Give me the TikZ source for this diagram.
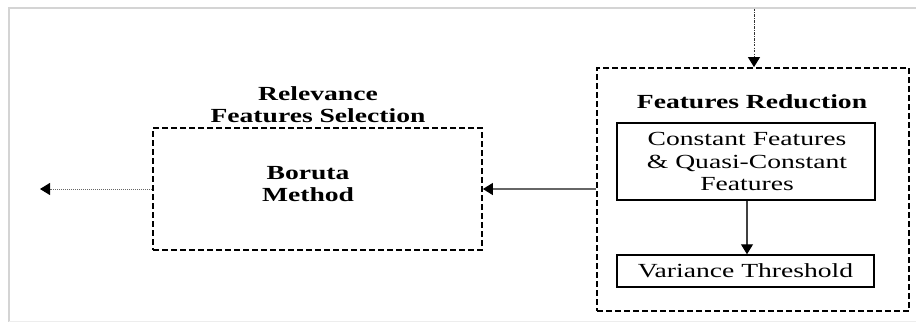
\documentclass[tikz,border=0pt]{standalone}
\usepackage{fontspec}
\setmainfont[FakeStretch=1.38]{Liberation Serif}
\usetikzlibrary{arrows.meta}
\tikzset{
  dashbox/.style={draw=black, line width=1.8pt, dash pattern=on 6pt off 3pt, rectangle, inner sep=0pt},
  solidbox/.style={draw=black, line width=1.5pt, rectangle, inner sep=0pt},
  txt/.style={align=center, inner sep=0pt, font=\fontsize{20}{22.5}\selectfont},
  btxt/.style={align=center, inner sep=0pt, font=\fontsize{20}{22}\selectfont\bfseries},
  tip/.style={-{Triangle[length=10pt,width=12pt,color=black]}},
  frame/.style={draw=black!17, line width=2pt},
}
\begin{document}
\begin{tikzpicture}[x=1pt,y=-1pt]
\useasboundingbox (0,0) rectangle (916,322);
% light frame
\draw[frame] (916,7.5) -- (8.5,7.5) -- (8.5,322);
\draw[draw=black!7, line width=1pt] (8.5,321) -- (916,321);

% boxes
\node[dashbox, minimum width=329pt, minimum height=122pt] (boruta) at (317.5,189) {};
\node[btxt] (borutatext) at (308,184) {Boruta\\Method};
\node[btxt] (reltext) at (318,104.5) {Relevance\\Features Selection};

\node[dashbox, minimum width=312pt, minimum height=243pt] (fr) at (753,189.5) {};
\node[btxt] (frtext) at (752,102) {Features Reduction};
\node[solidbox, minimum width=258pt, minimum height=77pt] (const) at (746,161.5) {};
\node[txt] (consttext) at (747,161.5) {Constant Features\\\& Quasi-Constant\\Features};
\node[solidbox, minimum width=257pt, minimum height=32pt] (var) at (745.5,271) {};
\node[txt] (vartext) at (745.5,271) {Variance Threshold};

% connectors
\coordinate (topin) at (754,8.5);
\coordinate (outl) at (40,189);
\draw[tip, black!80, line width=1pt, dash pattern=on 2.5pt off 1.2pt on 1pt off 1.2pt] (topin) -- (fr.north -| topin);
\draw[tip, black!60, line width=1.2pt] (fr.west |- boruta.east) -- (boruta.east);
\draw[tip, black!60, line width=1pt, densely dotted] (boruta.west) -- (outl);
\draw[tip, black!75, line width=1.2pt] (const.south -| 747,0) -- (var.north -| 747,0);
\end{tikzpicture}
\end{document}
